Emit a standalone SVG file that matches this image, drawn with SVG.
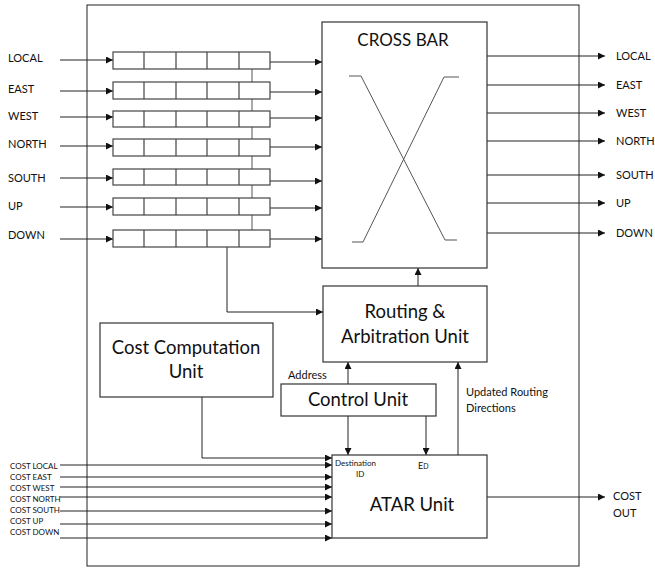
<svg xmlns="http://www.w3.org/2000/svg" width="655" height="570" viewBox="0 0 655 570">
<style>
text{font-family:Lato,"Liberation Sans",sans-serif;fill:#111}
.ln{stroke:#222;stroke-width:1;fill:none}
.box{stroke:#333;stroke-width:1.2;fill:#fff}
.buf{stroke:#444;stroke-width:1.2;fill:#fff}
.lab{font-size:11px}
.sm{font-size:8px}
.big{font-size:18.5px;text-anchor:middle}
</style>
<defs>
<marker id="ah" viewBox="0 0 10 10" refX="10" refY="5" markerWidth="7" markerHeight="7" markerUnits="userSpaceOnUse" orient="auto">
<path d="M0,0 L10,5 L0,10 z" fill="#111"/>
</marker>
</defs>
<rect x="87" y="5" width="492" height="561" class="ln"/>

<g id="connectors">
<line class="ln" x1="60" y1="60" x2="113" y2="60" marker-end="url(#ah)"/>
<line class="ln" x1="60" y1="91" x2="113" y2="91" marker-end="url(#ah)"/>
<line class="ln" x1="60" y1="117" x2="113" y2="117" marker-end="url(#ah)"/>
<line class="ln" x1="60" y1="146" x2="113" y2="146" marker-end="url(#ah)"/>
<line class="ln" x1="60" y1="178" x2="113" y2="178" marker-end="url(#ah)"/>
<line class="ln" x1="60" y1="207" x2="113" y2="207" marker-end="url(#ah)"/>
<line class="ln" x1="60" y1="239" x2="113" y2="239" marker-end="url(#ah)"/>
<line class="ln" x1="270" y1="62" x2="322" y2="62" marker-end="url(#ah)"/>
<line class="ln" x1="270" y1="92" x2="322" y2="92" marker-end="url(#ah)"/>
<line class="ln" x1="270" y1="118" x2="322" y2="118" marker-end="url(#ah)"/>
<line class="ln" x1="270" y1="147" x2="322" y2="147" marker-end="url(#ah)"/>
<line class="ln" x1="270" y1="181" x2="322" y2="181" marker-end="url(#ah)"/>
<line class="ln" x1="270" y1="208" x2="322" y2="208" marker-end="url(#ah)"/>
<line class="ln" x1="270" y1="239" x2="322" y2="239" marker-end="url(#ah)"/>
<line class="ln" x1="252" y1="69" x2="252" y2="230" style="stroke:#555"/>
<line class="ln" x1="487" y1="56" x2="605" y2="56" marker-end="url(#ah)"/>
<line class="ln" x1="487" y1="85" x2="605" y2="85" marker-end="url(#ah)"/>
<line class="ln" x1="487" y1="113" x2="605" y2="113" marker-end="url(#ah)"/>
<line class="ln" x1="487" y1="141" x2="605" y2="141" marker-end="url(#ah)"/>
<line class="ln" x1="487" y1="175" x2="605" y2="175" marker-end="url(#ah)"/>
<line class="ln" x1="487" y1="203" x2="605" y2="203" marker-end="url(#ah)"/>
<line class="ln" x1="487" y1="233" x2="605" y2="233" marker-end="url(#ah)"/>
<line class="ln" x1="418" y1="286" x2="418" y2="268" marker-end="url(#ah)"/>
<polyline class="ln" points="227,247 227,312 323,312" marker-end="url(#ah)"/>
<line class="ln" x1="348" y1="384" x2="348" y2="362" marker-end="url(#ah)"/>
<line class="ln" x1="348" y1="416" x2="348" y2="455" marker-end="url(#ah)"/>
<line class="ln" x1="426" y1="416" x2="426" y2="455" marker-end="url(#ah)"/>
<line class="ln" x1="458" y1="455" x2="458" y2="362" marker-end="url(#ah)"/>
<polyline class="ln" points="202,397 202,458 332,458" marker-end="url(#ah)"/>
<line class="ln" x1="60" y1="465" x2="332" y2="465" marker-end="url(#ah)"/>
<line class="ln" x1="60" y1="477" x2="332" y2="477" marker-end="url(#ah)"/>
<line class="ln" x1="60" y1="487" x2="332" y2="487" marker-end="url(#ah)"/>
<line class="ln" x1="60" y1="497" x2="332" y2="497" marker-end="url(#ah)"/>
<line class="ln" x1="60" y1="511" x2="332" y2="511" marker-end="url(#ah)"/>
<line class="ln" x1="60" y1="524" x2="332" y2="524" marker-end="url(#ah)"/>
<line class="ln" x1="60" y1="538" x2="332" y2="538" marker-end="url(#ah)"/>
<line class="ln" x1="487" y1="497" x2="605" y2="497" marker-end="url(#ah)"/>
</g>

<g id="input-labels">
<text x="8" y="62" class="lab">LOCAL</text>
<text x="8" y="93" class="lab">EAST</text>
<text x="8" y="120" class="lab">WEST</text>
<text x="8" y="148" class="lab">NORTH</text>
<text x="8" y="182" class="lab">SOUTH</text>
<text x="8" y="210" class="lab">UP</text>
<text x="8" y="239" class="lab">DOWN</text>
</g>

<g id="buffers">
<g id="buf-local"><rect class="buf" x="113" y="52" width="157" height="17"/><path class="buf" d="M144,52V69M176,52V69M207,52V69M239,52V69"/></g>
<g id="buf-east"><rect class="buf" x="113" y="82" width="157" height="17"/><path class="buf" d="M144,82V99M176,82V99M207,82V99M239,82V99"/></g>
<g id="buf-west"><rect class="buf" x="113" y="111" width="157" height="16"/><path class="buf" d="M144,111V127M176,111V127M207,111V127M239,111V127"/></g>
<g id="buf-north"><rect class="buf" x="113" y="139" width="157" height="17"/><path class="buf" d="M144,139V156M176,139V156M207,139V156M239,139V156"/></g>
<g id="buf-south"><rect class="buf" x="113" y="169" width="157" height="16"/><path class="buf" d="M144,169V185M176,169V185M207,169V185M239,169V185"/></g>
<g id="buf-up"><rect class="buf" x="113" y="198" width="157" height="17"/><path class="buf" d="M144,198V215M176,198V215M207,198V215M239,198V215"/></g>
<g id="buf-down"><rect class="buf" x="113" y="230" width="157" height="17"/><path class="buf" d="M144,230V247M176,230V247M207,230V247M239,230V247"/></g>
</g>

<g id="crossbar">
<rect class="box" x="322" y="22" width="165" height="246"/>
<text x="403" y="46" style="font-size:17px;text-anchor:middle">CROSS BAR</text>
<polyline points="349,76 361,76 445,240 457,240" fill="none" stroke="#555" stroke-width="1"/>
<polyline points="459,77 444,77 363,242 352,242" fill="none" stroke="#555" stroke-width="1"/>
</g>

<g id="output-labels">
<text x="616" y="60" class="lab">LOCAL</text>
<text x="616" y="89" class="lab">EAST</text>
<text x="616" y="117" class="lab">WEST</text>
<text x="616" y="145" class="lab">NORTH</text>
<text x="616" y="179" class="lab">SOUTH</text>
<text x="616" y="207" class="lab">UP</text>
<text x="616" y="237" class="lab">DOWN</text>
</g>

<g id="routing">
<rect class="box" x="323" y="286" width="164" height="76"/>
<text x="405" y="318" class="big">Routing &amp;</text>
<text x="405" y="343" class="big">Arbitration Unit</text>
</g>

<g id="cost-computation">
<rect class="box" x="100" y="323" width="173" height="74"/>
<text x="186" y="354" class="big">Cost Computation</text>
<text x="186" y="378" class="big">Unit</text>
</g>

<g id="control">
<rect class="box" x="281" y="384" width="155" height="32"/>
<text x="358" y="406" class="big">Control Unit</text>
</g>
<text x="288" y="379" class="lab">Address</text>
<text x="466" y="396" class="lab">Updated Routing</text>
<text x="466" y="412" class="lab">Directions</text>

<g id="atar">
<rect class="box" x="332" y="455" width="155" height="83"/>
<text x="335" y="466" class="sm">Destination</text>
<text x="356" y="477" class="sm">ID</text>
<text x="418" y="469" style="font-size:9px">E<tspan style="font-size:7px">D</tspan></text>
<text x="412" y="511" class="big">ATAR Unit</text>
</g>

<g id="cost-labels">
<text x="10" y="469" class="sm">COST LOCAL</text>
<text x="10" y="480" class="sm">COST EAST</text>
<text x="10" y="491" class="sm">COST WEST</text>
<text x="10" y="502" class="sm">COST NORTH</text>
<text x="10" y="513" class="sm">COST SOUTH</text>
<text x="10" y="524" class="sm">COST UP</text>
<text x="10" y="535" class="sm">COST DOWN</text>
</g>
<text x="613" y="500" class="lab">COST</text>
<text x="613" y="517" class="lab">OUT</text>
</svg>
